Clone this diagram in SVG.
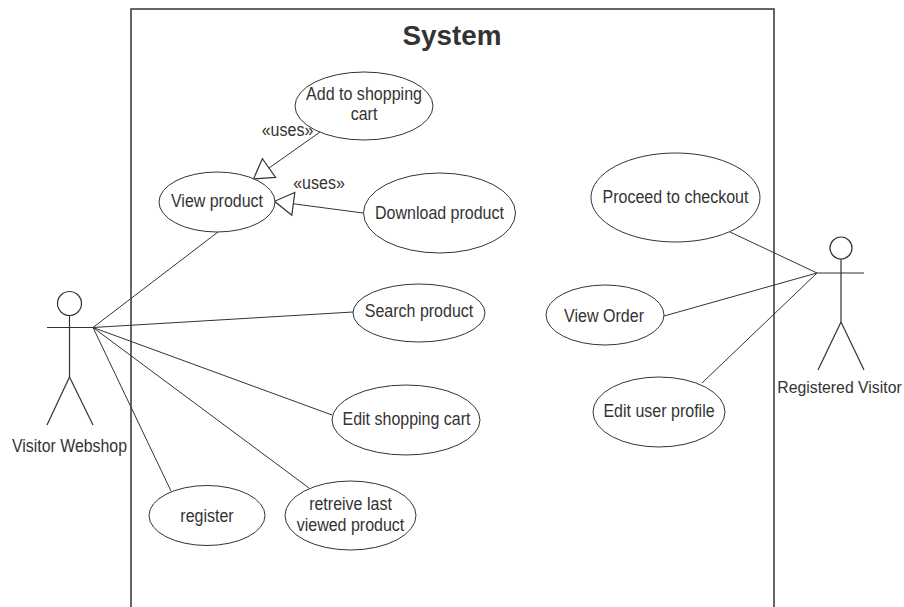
<svg xmlns="http://www.w3.org/2000/svg" width="904" height="607" viewBox="0 0 904 607">
  <style>
    .uc { fill: #ffffff; stroke: #333333; stroke-width: 1; }
    .lbl { font-family: "Liberation Sans", Arial, sans-serif; font-size: 17.5px; fill: #333333; text-anchor: middle; }
    .actor { fill: none; stroke: #333333; stroke-width: 1.2; }
    .assoc { stroke: #333333; stroke-width: 1; fill: none; }
    .title { font-family: "Liberation Sans", Arial, sans-serif; font-size: 28px; font-weight: bold; fill: #333333; text-anchor: middle; }
  </style>
  <defs>
    <!-- hollow triangle head for the «uses» relations -->
    <marker id="gen" markerUnits="userSpaceOnUse" viewBox="-1 -13 21 26" markerWidth="21" markerHeight="26" refX="19" refY="0" orient="auto">
      <path d="M0,-11.5 L19,0 L0,11.5 Z" fill="#ffffff" stroke="#333333" stroke-width="1.2"/>
    </marker>
  </defs>
  <rect width="904" height="607" fill="#ffffff"/>

  <!-- system boundary (open at the bottom) -->
  <g id="system">
    <path d="M131,620 L131,9 L774,9 L774,620" fill="none" stroke="#333333" stroke-width="1.5"/>
    <text class="title" x="452" y="45" textLength="99" lengthAdjust="spacingAndGlyphs">System</text>
  </g>

  <!-- connectors -->
  <g id="connectors">
    <line class="assoc" x1="93" y1="327.5" x2="218" y2="232"/>
    <line class="assoc" x1="93" y1="327.5" x2="353" y2="312"/>
    <line class="assoc" x1="93" y1="327.5" x2="332" y2="415"/>
    <line class="assoc" x1="93" y1="327.5" x2="309" y2="488"/>
    <line class="assoc" x1="93" y1="327.5" x2="171" y2="491"/>
    <line class="assoc" x1="817" y1="273" x2="730" y2="232"/>
    <line class="assoc" x1="817" y1="273" x2="664" y2="316"/>
    <line class="assoc" x1="817" y1="273" x2="702" y2="383"/>
    <line class="assoc" x1="320" y1="132" x2="253.5" y2="179" marker-end="url(#gen)"/>
    <line class="assoc" x1="363" y1="213" x2="274.5" y2="201.3" marker-end="url(#gen)"/>
    <text class="lbl" x="287.5" y="136" textLength="51.6" lengthAdjust="spacingAndGlyphs">«uses»</text>
    <text class="lbl" x="319" y="189" textLength="51.6" lengthAdjust="spacingAndGlyphs">«uses»</text>
  </g>

  <!-- actors -->
  <g id="visitor-webshop">
    <circle class="actor" cx="69.5" cy="303.5" r="12"/>
    <line class="actor" x1="69.5" y1="315.5" x2="69.5" y2="377"/>
    <line class="actor" x1="47" y1="327.5" x2="93" y2="327.5"/>
    <line class="actor" x1="69.5" y1="377" x2="47" y2="425"/>
    <line class="actor" x1="69.5" y1="377" x2="93" y2="425"/>
    <text class="lbl" x="69.5" y="452" textLength="115" lengthAdjust="spacingAndGlyphs">Visitor Webshop</text>
  </g>
  <g id="registered-visitor">
    <circle class="actor" cx="841" cy="248" r="11"/>
    <line class="actor" x1="841" y1="259" x2="841" y2="322"/>
    <line class="actor" x1="817" y1="273" x2="864" y2="273"/>
    <line class="actor" x1="841" y1="322" x2="818" y2="370"/>
    <line class="actor" x1="841" y1="322" x2="864" y2="370"/>
    <text class="lbl" x="839.5" y="393" style="font-size:15.8px">Registered Visitor</text>
  </g>

  <!-- use cases -->
  <g id="add-to-cart">
    <ellipse class="uc" cx="364" cy="106" rx="69" ry="34"/>
    <text class="lbl" x="364" y="100" textLength="116" lengthAdjust="spacingAndGlyphs">Add to shopping</text>
    <text class="lbl" x="364" y="119.5" textLength="26.7" lengthAdjust="spacingAndGlyphs">cart</text>
  </g>
  <g id="view-product">
    <ellipse class="uc" cx="217" cy="202" rx="58" ry="30"/>
    <text class="lbl" x="217" y="207" textLength="92" lengthAdjust="spacingAndGlyphs">View product</text>
  </g>
  <g id="download-product">
    <ellipse class="uc" cx="439.5" cy="213" rx="76" ry="40"/>
    <text class="lbl" x="439.5" y="219" textLength="128.9" lengthAdjust="spacingAndGlyphs">Download product</text>
  </g>
  <g id="search-product">
    <ellipse class="uc" cx="419" cy="313" rx="66" ry="29"/>
    <text class="lbl" x="419" y="317" textLength="108.5" lengthAdjust="spacingAndGlyphs">Search product</text>
  </g>
  <g id="edit-cart">
    <ellipse class="uc" cx="406" cy="420" rx="74" ry="35"/>
    <text class="lbl" x="406.5" y="425" textLength="128" lengthAdjust="spacingAndGlyphs">Edit shopping cart</text>
  </g>
  <g id="register">
    <ellipse class="uc" cx="207" cy="515.5" rx="58" ry="30"/>
    <text class="lbl" x="207" y="521.5" textLength="53.3" lengthAdjust="spacingAndGlyphs">register</text>
  </g>
  <g id="retrieve-last">
    <ellipse class="uc" cx="350.5" cy="515.5" rx="65.5" ry="34.5"/>
    <text class="lbl" x="350.5" y="510" textLength="82.7" lengthAdjust="spacingAndGlyphs">retreive last</text>
    <text class="lbl" x="350.5" y="530.5" textLength="107.6" lengthAdjust="spacingAndGlyphs">viewed product</text>
  </g>
  <g id="checkout">
    <ellipse class="uc" cx="675.5" cy="197.5" rx="84.5" ry="44.5"/>
    <text class="lbl" x="675.5" y="203" textLength="145.9" lengthAdjust="spacingAndGlyphs">Proceed to checkout</text>
  </g>
  <g id="view-order">
    <ellipse class="uc" cx="605" cy="315" rx="59" ry="30"/>
    <text class="lbl" x="604" y="321.5" textLength="80" lengthAdjust="spacingAndGlyphs">View Order</text>
  </g>
  <g id="edit-profile">
    <ellipse class="uc" cx="659" cy="412" rx="66" ry="35"/>
    <text class="lbl" x="659" y="416.5" textLength="111.2" lengthAdjust="spacingAndGlyphs">Edit user profile</text>
  </g>
</svg>
